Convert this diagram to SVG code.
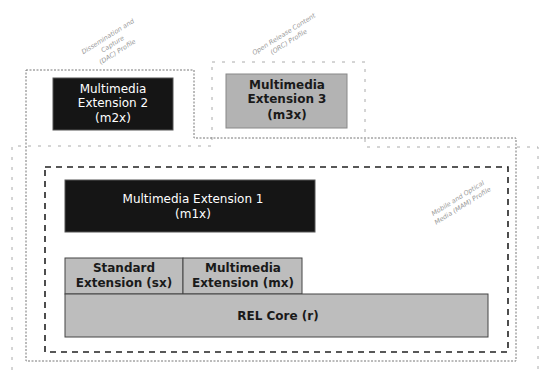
<svg xmlns="http://www.w3.org/2000/svg" width="541" height="370" viewBox="0 0 541 370">
<style>
.dac{fill:none;stroke:#777;stroke-width:1;stroke-dasharray:2 1.5}
.orc{fill:none;stroke:#aaa;stroke-width:1;stroke-dasharray:3 7}
.mam{fill:none;stroke:#222;stroke-width:1.6;stroke-dasharray:6 5}
.blk{fill:#151515;stroke:#555;stroke-width:1}
.gry{fill:#bdbdbd;stroke:#444;stroke-width:1}
.gry3{fill:#b3b3b3;stroke:#888;stroke-width:1}
.tw{font-family:"DejaVu Sans",sans-serif;font-size:12px;fill:#fff;text-anchor:middle}
.tb{font-family:"DejaVu Sans",sans-serif;font-size:12px;font-weight:bold;fill:#1a1a1a;text-anchor:middle}
.tl{font-family:"DejaVu Sans",sans-serif;font-size:6.5px;font-style:italic;fill:#999;text-anchor:middle}
</style>
<rect width="541" height="370" fill="#fff"/>
<g id="profile-orc">
<polygon class="orc" points="212,62 365,62 365,147 538,147 538,375 12,375 12,146 212,146"/>
<g transform="translate(285,36) rotate(-32)">
<text class="tl" x="0" y="0">Open Release Content</text>
<text class="tl" x="0" y="9">(ORC) Profile</text>
</g>
</g>
<g id="profile-dac">
<polygon class="dac" points="26,70 194,70 194,138 516,138 516,361 26,361"/>
<g transform="translate(110,40) rotate(-32)">
<text class="tl" x="0" y="-2">Dissemination and</text>
<text class="tl" x="0" y="7">Capture</text>
<text class="tl" x="0" y="16">(DAC) Profile</text>
</g>
</g>
<g id="profile-mam">
<rect class="mam" x="45" y="167" width="463" height="185"/>
<g transform="translate(459,200) rotate(-32)">
<text class="tl" x="0" y="0">Mobile and Optical</text>
<text class="tl" x="0" y="9">Media (MAM) Profile</text>
</g>
</g>
<g id="m2x">
<rect class="blk" x="53" y="78" width="120" height="52"/>
<text class="tw" x="113" y="93">Multimedia</text>
<text class="tw" x="113" y="107">Extension 2</text>
<text class="tw" x="113" y="122">(m2x)</text>
</g>
<g id="m3x">
<rect class="gry3" x="226" y="74" width="121" height="54"/>
<text class="tb" x="287" y="89">Multimedia</text>
<text class="tb" x="287" y="103">Extension 3</text>
<text class="tb" x="287" y="119">(m3x)</text>
</g>
<g id="m1x">
<rect class="blk" x="65" y="180" width="250" height="52"/>
<text class="tw" x="193" y="203">Multimedia Extension 1</text>
<text class="tw" x="193" y="218">(m1x)</text>
</g>
<g id="sx">
<rect class="gry" x="65" y="258" width="118" height="36"/>
<text class="tb" x="124" y="272">Standard</text>
<text class="tb" x="124" y="287">Extension (sx)</text>
</g>
<g id="mx">
<rect class="gry" x="183" y="258" width="119" height="36"/>
<text class="tb" x="243" y="272">Multimedia</text>
<text class="tb" x="243" y="287">Extension (mx)</text>
</g>
<g id="r">
<rect class="gry" x="65" y="294" width="423" height="43"/>
<text class="tb" x="278" y="320">REL Core (r)</text>
</g>
<g id="connectors"/>
</svg>
